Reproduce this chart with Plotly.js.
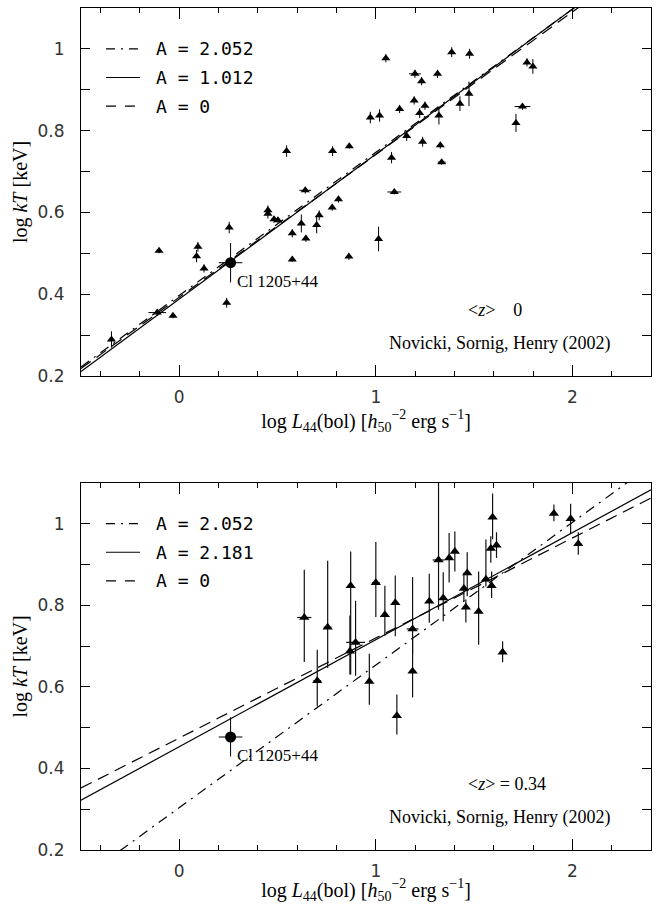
<!DOCTYPE html>
<html>
<head>
<meta charset="utf-8">
<script src="https://cdn.plot.ly/plotly-3.0.1.min.js"></script>
<style>html,body{margin:0;padding:0;background:#fff;}#chart{width:665px;height:904px;}</style>
</head>
<body>
<div id="chart"></div>
<script>
// ---------- Top panel (<z> ~ 0) ----------
const topL = [-0.345,-0.112,-0.032,-0.103,0.095,0.088,0.126,0.241,0.254,0.451,0.451,0.482,0.502,0.546,0.575,0.575,0.621,0.641,0.644,0.699,0.712,0.778,0.780,0.810,0.865,0.863,0.972,1.014,1.019,1.051,1.080,1.094,1.121,1.157,1.195,1.199,1.223,1.233,1.238,1.250,1.314,1.321,1.328,1.335,1.386,1.428,1.474,1.477,1.713,1.746,1.769,1.799];
const topT = [0.289,0.355,0.347,0.506,0.516,0.493,0.463,0.379,0.563,0.605,0.597,0.583,0.581,0.750,0.549,0.485,0.573,0.654,0.536,0.569,0.593,0.612,0.750,0.632,0.762,0.492,0.832,0.535,0.837,0.977,0.734,0.650,0.853,0.787,0.874,0.939,0.843,0.921,0.773,0.861,0.939,0.837,0.764,0.723,0.992,0.866,0.890,0.988,0.819,0.859,0.967,0.957];
const topTerr = [0.020,0.008,0.006,0.006,0.012,0.015,0.010,0.012,0.014,0.012,0.012,0.008,0.006,0.014,0.010,0.006,0.022,0.008,0.008,0.020,0.012,0.008,0.012,0.008,0.006,0.008,0.014,0.030,0.015,0.010,0.014,0.006,0.010,0.012,0.010,0.010,0.012,0.010,0.012,0.010,0.010,0.022,0.008,0.006,0.012,0.018,0.030,0.012,0.022,0.008,0.010,0.018];
const topLerr = [0,0.045,0,0,0,0,0,0,0,0,0,0,0,0,0,0,0,0.030,0,0,0,0,0,0,0,0,0,0,0,0,0,0.035,0,0,0,0.030,0,0,0,0,0,0,0,0.020,0,0,0,0,0,0.040,0,0];

// ---------- Bottom panel (<z> = 0.34) ----------
const botL = [0.636,0.755,0.702,0.872,0.868,0.897,1.000,1.046,1.099,0.967,1.107,1.187,1.187,1.272,1.319,1.343,1.373,1.402,1.448,1.465,1.458,1.523,1.560,1.585,1.594,1.614,1.589,1.645,1.906,1.991,2.030];
const botT = [0.770,0.746,0.615,0.848,0.687,0.709,0.855,0.777,0.806,0.613,0.529,0.742,0.638,0.810,0.911,0.818,0.916,0.932,0.841,0.879,0.795,0.785,0.864,0.939,1.016,0.947,0.848,0.685,1.025,1.012,0.951];
const botTlo = [0.661,0.646,0.552,0.630,0.630,0.627,0.771,0.725,0.724,0.556,0.483,0.680,0.574,0.757,0.789,0.761,0.856,0.883,0.810,0.822,0.758,0.703,0.846,0.904,0.962,0.916,0.818,0.660,1.006,0.977,0.924];
const botThi = [0.887,0.909,0.691,0.932,0.775,0.811,0.955,0.848,0.873,0.681,0.581,0.869,0.716,0.877,1.150,0.881,0.977,0.981,0.880,0.930,0.814,0.883,0.961,0.969,1.074,0.979,0.883,0.712,1.047,1.049,0.979];
const botLerr = [0.036,0.020,0.020,0.010,0.010,0.048,0.020,0.010,0.010,0.010,0.015,0.030,0.015,0.010,0.030,0.010,0.010,0.010,0.010,0.010,0.010,0.010,0.010,0.010,0.010,0.010,0.010,0.010,0.010,0.010,0.010];

// ---------- Cl 1205+44 ----------
const clL = [0.261];
const clT = [0.477];
const clTerr = [0.048];
const clLerr = [0.060];

// ---------- Model lines (endpoints) ----------
const lineL = [-0.5, 2.4];
const topDashDot = [0.222, 1.237];
const topSolid = [0.211, 1.239];
const topDash = [0.218, 1.230];
const botDashDot = [0.129, 1.143];
const botSolid = [0.322, 1.083];
const botDash = [0.352, 1.063];

const topLegend = ['A = 2.052', 'A = 1.012', 'A = 0'];
const botLegend = ['A = 2.052', 'A = 2.181', 'A = 0'];
const legendDash = ['9px,6px,2px,6px', 'solid', '10px,9px'];
const legendRowsT = [1.0, 0.93, 0.86];

const serif = 'Liberation Serif, Times New Roman, serif';
const sans = 'DejaVu Sans, Liberation Sans, sans-serif';

function lineTrace(x, y, dash, xa, ya) {
  return {x: x, y: y, xaxis: xa, yaxis: ya, mode: 'lines', type: 'scatter',
    line: {color: 'black', width: 1.2, dash: dash}, hoverinfo: 'skip', showlegend: false, cliponaxis: true};
}

const traces = [
  lineTrace(lineL, topDashDot, '10px,6px,2px,6px', 'x', 'y'),
  lineTrace(lineL, topSolid, 'solid', 'x', 'y'),
  lineTrace(lineL, topDash, '12px,7px', 'x', 'y'),
  lineTrace(lineL, botDashDot, '10px,6px,2px,6px', 'x2', 'y2'),
  lineTrace(lineL, botSolid, 'solid', 'x2', 'y2'),
  lineTrace(lineL, botDash, '12px,7px', 'x2', 'y2'),
  {x: topL, y: topT, xaxis: 'x', yaxis: 'y', type: 'scatter', mode: 'markers',
   marker: {symbol: 'triangle-up', size: 8, color: 'black'},
   error_y: {type: 'data', array: topTerr, visible: true, color: 'black', thickness: 1, width: 0},
   error_x: {type: 'data', array: topLerr, visible: true, color: 'black', thickness: 1, width: 0},
   showlegend: false},
  {x: clL, y: clT, xaxis: 'x', yaxis: 'y', type: 'scatter', mode: 'markers',
   marker: {symbol: 'circle', size: 11, color: 'black'},
   error_y: {type: 'data', array: clTerr, visible: true, color: 'black', thickness: 1, width: 0},
   error_x: {type: 'data', array: clLerr, visible: true, color: 'black', thickness: 1, width: 0},
   showlegend: false},
  {x: botL, y: botT, xaxis: 'x2', yaxis: 'y2', type: 'scatter', mode: 'markers',
   marker: {symbol: 'triangle-up', size: 9, color: 'black'},
   error_y: {type: 'data', symmetric: false,
     array: botThi.map((h, i) => h - botT[i]), arrayminus: botTlo.map((l, i) => botT[i] - l),
     visible: true, color: '#111', thickness: 1.2, width: 0},
   error_x: {type: 'data', array: botLerr, visible: true, color: '#111', thickness: 1.2, width: 0},
   showlegend: false},
  {x: clL, y: clT, xaxis: 'x2', yaxis: 'y2', type: 'scatter', mode: 'markers',
   marker: {symbol: 'circle', size: 11, color: 'black'},
   error_y: {type: 'data', array: clTerr, visible: true, color: 'black', thickness: 1, width: 0},
   error_x: {type: 'data', array: clLerr, visible: true, color: 'black', thickness: 1, width: 0},
   showlegend: false}
];

const xTitle = 'log <i>L</i><sub>44</sub>(bol) [<i>h</i><sub>50</sub><sup>−2</sup> erg s<sup>−1</sup>]';
const yTitle = 'log <i>kT</i> [keV]';

function xAxis(anchor) {
  return {anchor: anchor, domain: [0, 1], range: [-0.5, 2.4], tickmode: 'linear', tick0: 0, dtick: 1,
    ticks: 'inside', ticklen: 11, tickcolor: 'black', showline: true, linecolor: 'black', linewidth: 1,
    mirror: 'allticks', showgrid: false, zeroline: false,
    minor: {dtick: 0.2, tick0: 0, ticks: 'inside', ticklen: 5, tickcolor: 'black', showgrid: false},
    tickfont: {family: sans, size: 17, color: '#333'}, ticklabelstandoff: 6,
    title: {text: xTitle, font: {family: serif, size: 20, color: 'black'}, standoff: 6},
    automargin: false};
}
function yAxis(anchor, domain) {
  return {anchor: anchor, domain: domain, range: [0.2, 1.1], tickmode: 'linear', tick0: 0.2, dtick: 0.2,
    ticks: 'inside', ticklen: 9, tickcolor: 'black', showline: true, linecolor: 'black', linewidth: 1,
    mirror: 'allticks', showgrid: false, zeroline: false,
    minor: {dtick: 0.1, tick0: 0.2, ticks: 'inside', ticklen: 9, tickcolor: 'black', showgrid: false},
    tickfont: {family: sans, size: 17, color: '#333'}, ticklabelstandoff: 12,
    title: {text: yTitle, font: {family: serif, size: 20, color: 'black'}, standoff: 4},
    automargin: false};
}

const shapes = [];
const annotations = [];
function addLegend(labels, xr, yr) {
  labels.forEach((lab, i) => {
    const yv = legendRowsT[i];
    shapes.push({type: 'line', xref: xr, yref: yr, x0: -0.373, x1: -0.200, y0: yv, y1: yv,
      line: {color: 'black', width: 1.2, dash: legendDash[i]}});
    annotations.push({xref: xr, yref: yr, x: -0.128, y: yv, xanchor: 'left', yanchor: 'middle',
      text: lab, showarrow: false, font: {family: 'DejaVu Sans Mono, Liberation Mono, monospace', size: 18, color: 'black'}});
  });
}
addLegend(topLegend, 'x', 'y');
addLegend(botLegend, 'x2', 'y2');

function addText(xr, yr, x, y, text, anchor, size) {
  annotations.push({xref: xr, yref: yr, x: x, y: y, xanchor: anchor, yanchor: 'middle', text: text,
    showarrow: false, font: {family: serif, size: size, color: 'black'}});
}
addText('x', 'y', 0.283, 0.432, 'Cl 1205+44', 'left', 17);
addText('x2', 'y2', 0.283, 0.431, 'Cl 1205+44', 'left', 17);
addText('x', 'y', 1.458, 0.362, '&lt;<i>z</i>&gt;\u00a0\u00a0\u00a0\u00a00', 'left', 18);
addText('x2', 'y2', 1.458, 0.363, '&lt;<i>z</i>&gt; = 0.34', 'left', 18);
addText('x', 'y', 1.631, 0.279, 'Novicki, Sornig, Henry (2002)', 'center', 18);
addText('x2', 'y2', 1.631, 0.279, 'Novicki, Sornig, Henry (2002)', 'center', 18);

const layout = {
  width: 665, height: 904,
  margin: {l: 81, r: 14, t: 8, b: 54},
  paper_bgcolor: 'white', plot_bgcolor: 'white',
  showlegend: false,
  xaxis: xAxis('y'),
  yaxis: yAxis('x', [0.563, 1]),
  xaxis2: xAxis('y2'),
  yaxis2: yAxis('x2', [0, 0.436]),
  shapes: shapes,
  annotations: annotations
};

Plotly.newPlot('chart', traces, layout, {staticPlot: true, displayModeBar: false});
</script>
</body>
</html>
